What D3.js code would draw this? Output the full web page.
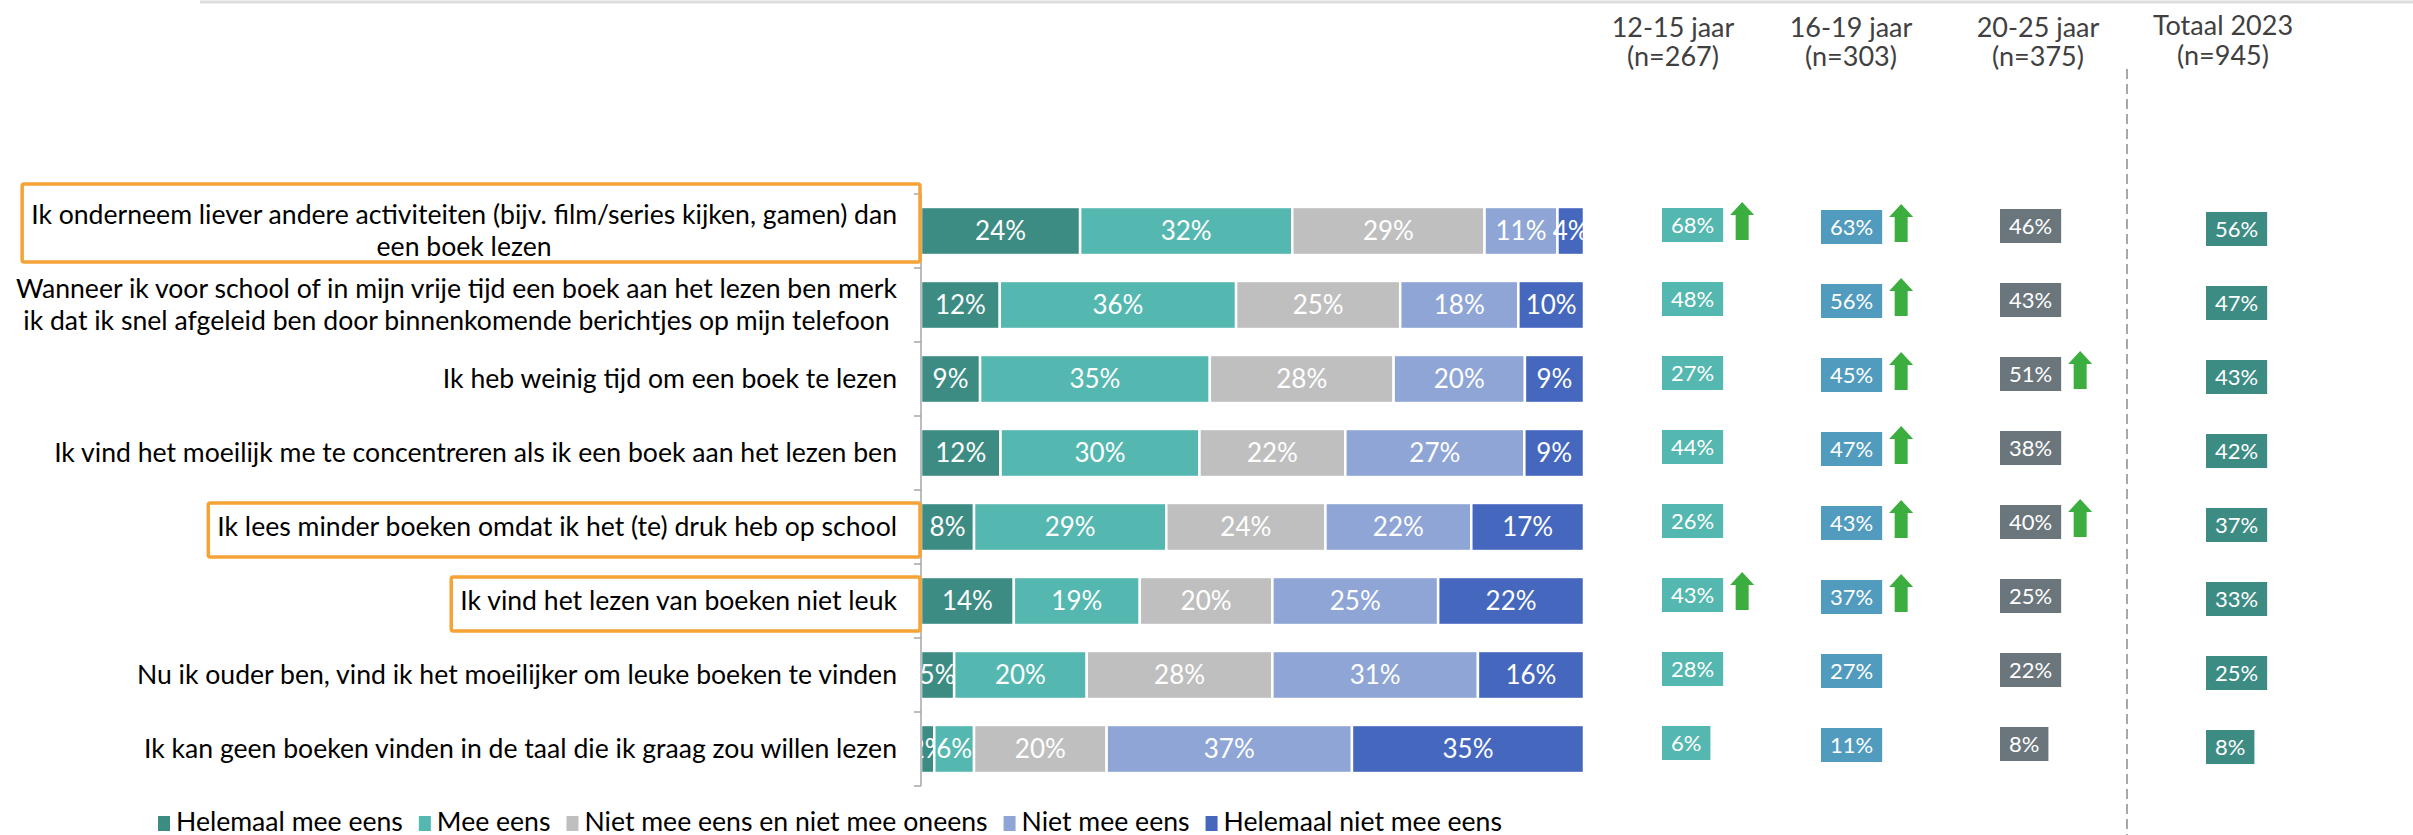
<!DOCTYPE html>
<html>
<head>
<meta charset="utf-8">
<script src="https://cdn.jsdelivr.net/npm/d3@7/dist/d3.min.js"></script>
<style>
  body { margin: 0; background: #fff; }
  svg { display: block; font-family: Lato, "Open Sans", sans-serif; }
</style>
</head>
<body>
<div class="chart"></div>
<script>
// statements (each entry = the lines of the label)
var categories = [
  ['Ik onderneem liever andere activiteiten (bijv. film/series kijken, gamen) dan', 'een boek lezen'],
  ['Wanneer ik voor school of in mijn vrije tijd een boek aan het lezen ben merk', 'ik dat ik snel afgeleid ben door binnenkomende berichtjes op mijn telefoon'],
  ['Ik heb weinig tijd om een boek te lezen'],
  ['Ik vind het moeilijk me te concentreren als ik een boek aan het lezen ben'],
  ['Ik lees minder boeken omdat ik het (te) druk heb op school'],
  ['Ik vind het lezen van boeken niet leuk'],
  ['Nu ik ouder ben, vind ik het moeilijker om leuke boeken te vinden'],
  ['Ik kan geen boeken vinden in de taal die ik graag zou willen lezen']
];
var highlighted = [true, false, false, false, true, true, false, false];

var answers = ['Helemaal mee eens', 'Mee eens', 'Niet mee eens en niet mee oneens', 'Niet mee eens', 'Helemaal niet mee eens'];
var helemaalMeeEens = [24, 12, 9, 12, 8, 14, 5, 2];
var meeEens         = [32, 36, 35, 30, 29, 19, 20, 6];
var neutraal        = [29, 25, 28, 22, 24, 20, 28, 20];
var nietMeeEens     = [11, 18, 20, 27, 22, 25, 31, 37];
var helemaalNiet    = [4, 10, 9, 9, 17, 22, 16, 35];

// (helemaal) mee eens per age group
var groups = ['12-15 jaar', '16-19 jaar', '20-25 jaar', 'Totaal 2023'];
var groupN = ['(n=267)', '(n=303)', '(n=375)', '(n=945)'];
var agree1215   = [68, 48, 27, 44, 26, 43, 28, 6];
var agree1619   = [63, 56, 45, 47, 43, 37, 27, 11];
var agree2025   = [46, 43, 51, 38, 40, 25, 22, 8];
var agreeTotaal = [56, 47, 43, 42, 37, 33, 25, 8];
// significantly higher than the rest
var up1215   = [true, false, false, false, false, true, false, false];
var up1619   = [true, true, true, true, true, true, false, false];
var up2025   = [false, false, true, false, true, false, false, false];
var upTotaal = [false, false, false, false, false, false, false, false];

var colors = ['#3d8c84', '#55b8b0', '#bfbfbf', '#8ea5d6', '#4567be'];
var badgeColors = ['#55b8b0', '#519bbe', '#6a757c', '#3d8c84'];

var W = 2413, H = 835;

var svg = d3.select('.chart').append('svg')
    .attr('width', W)
    .attr('height', H);

var x = d3.scaleLinear().domain([0, 1]).range([921, 1584]);
var y = d3.scaleBand().domain(d3.range(categories.length))
    .range([194, 786]).paddingInner(0.35).paddingOuter(0.175);

// top rule
svg.append('line')
    .attr('x1', 200).attr('x2', W).attr('y1', 2).attr('y2', 2)
    .attr('stroke', '#dcdcdc').attr('stroke-width', 3);

// stacked bars
var rows = categories.map(function(c, i){
  return {
    'Helemaal mee eens': helemaalMeeEens[i],
    'Mee eens': meeEens[i],
    'Niet mee eens en niet mee oneens': neutraal[i],
    'Niet mee eens': nietMeeEens[i],
    'Helemaal niet mee eens': helemaalNiet[i]
  };
});
var series = d3.stack().keys(answers).offset(d3.stackOffsetExpand)(rows);

svg.append('clipPath').attr('id', 'plot-clip')
  .append('rect')
    .attr('x', x(0)).attr('y', 0)
    .attr('width', x(1) - x(0)).attr('height', H);

var bars = svg.append('g').attr('clip-path', 'url(#plot-clip)');

var layers = bars.selectAll('.layer')
    .data(series)
  .enter().append('g')
    .attr('class', 'layer')
    .attr('fill', function(d, i){ return colors[i]; });

layers.selectAll('rect')
    .data(function(d){ return d; })
  .enter().append('rect')
    .attr('x', function(d){ return x(d[0]); })
    .attr('y', function(d, i){ return y(i); })
    .attr('width', function(d){ return x(d[1]) - x(d[0]); })
    .attr('height', y.bandwidth())
    .attr('stroke', '#fff')
    .attr('stroke-width', 2.5);

layers.selectAll('text')
    .data(function(d){
      var key = d.key;
      return d.map(function(s, i){ return { s: s, v: rows[i][key], i: i }; });
    })
  .enter().append('text')
    .attr('x', function(d){ return (x(d.s[0]) + x(d.s[1])) / 2; })
    .attr('y', function(d){ return y(d.i) + y.bandwidth() / 2; })
    .attr('dy', '0.36em')
    .attr('text-anchor', 'middle')
    .attr('fill', '#fff')
    .attr('font-size', 26)
    .text(function(d){ return d.v + '%'; });

// category axis with ticks between the bands
var axis = svg.append('g').attr('stroke', '#a6a6a6').attr('stroke-width', 1.5);
axis.append('line')
    .attr('x1', x(0)).attr('x2', x(0))
    .attr('y1', y.range()[0]).attr('y2', y.range()[1]);
axis.selectAll('.tick')
    .data(d3.range(categories.length + 1))
  .enter().append('line')
    .attr('x1', x(0) - 7).attr('x2', x(0))
    .attr('y1', function(d){ return y.range()[0] + d * y.step(); })
    .attr('y2', function(d){ return y.range()[0] + d * y.step(); });

// statement labels, block right-aligned, lines centred
var labelRight = 897, lineH = 32;
var labels = svg.append('g');
categories.forEach(function(lines, i){
  var cy = y(i) + y.bandwidth() / 2;
  var t = labels.append('text')
      .attr('font-size', 26.6)
      .attr('fill', '#000')
      .attr('text-anchor', 'middle');
  lines.forEach(function(line, j){
    t.append('tspan')
        .attr('y', cy + (j - (lines.length - 1) / 2) * lineH)
        .attr('dy', '0.35em')
        .text(line);
  });
  var w = d3.max(t.selectAll('tspan').nodes(), function(n){ return n.getComputedTextLength(); });
  t.selectAll('tspan').attr('x', labelRight - w / 2);

  // orange frame round the statements that are discussed
  if (highlighted[i]) {
    var top = lines.length > 1 ? cy - 47 : cy - 24,
        bot = lines.length > 1 ? cy + 31 : cy + 30,
        left = labelRight - w - 9;
    labels.append('rect')
        .attr('x', left)
        .attr('y', top)
        .attr('width', x(0) - 1 - left)
        .attr('height', bot - top)
        .attr('rx', 2)
        .attr('fill', 'none')
        .attr('stroke', '#f5a236')
        .attr('stroke-width', 3.5);
  }
});

// age group columns
var colLeft = [1662, 1821, 2000, 2206];
var colCenter = [1673, 1851, 2038, 2223];
var colShift = [-6, -4, -5, -2];
var colValues = [agree1215, agree1619, agree2025, agreeTotaal];
var colUp = [up1215, up1619, up2025, upTotaal];

var head = svg.append('g')
    .attr('fill', '#404040')
    .attr('font-size', 27)
    .attr('text-anchor', 'middle');
groups.forEach(function(g, c){
  var lift = c === 3 ? 2 : 0;
  head.append('text').attr('x', colCenter[c]).attr('y', 37 - lift).text(g);
  head.append('text').attr('x', colCenter[c]).attr('y', 66 - lift / 2).text(groupN[c]);
});

svg.append('line')
    .attr('x1', 2127).attr('x2', 2127)
    .attr('y1', 69).attr('y2', H)
    .attr('stroke', '#8c8c8c')
    .attr('stroke-width', 1.5)
    .attr('stroke-dasharray', '10,5');

var badgeH = 34;
colValues.forEach(function(vals, c){
  var g = svg.append('g');
  vals.forEach(function(v, i){
    var cy = y(i) + y.bandwidth() / 2 + colShift[c];
    var t = g.append('text')
        .attr('x', colLeft[c] + 9)
        .attr('y', cy)
        .attr('dy', '0.36em')
        .attr('fill', '#fff')
        .attr('font-size', 22)
        .text(v + '%');
    var w = t.node().getComputedTextLength() + 18;
    g.insert('rect', 'text')
        .attr('x', colLeft[c])
        .attr('y', cy - badgeH / 2)
        .attr('width', w)
        .attr('height', badgeH)
        .attr('fill', badgeColors[c]);

    if (colUp[c][i]) {
      var ax = colLeft[c] + w + 19,
          top = cy - badgeH / 2 - 6,
          bot = cy + badgeH / 2 - 2;
      g.append('path')
          .attr('d', d3.line()([
            [ax, top], [ax + 12, top + 13], [ax + 6.5, top + 13], [ax + 6.5, bot],
            [ax - 6.5, bot], [ax - 6.5, top + 13], [ax - 12, top + 13]
          ]) + 'Z')
          .attr('fill', '#3cae3f');
    }
  });
});

// legend
var legend = svg.append('g').attr('font-size', 26.6).attr('fill', '#000');
var lx = 158;
answers.forEach(function(a, i){
  legend.append('rect')
      .attr('x', lx).attr('y', 816)
      .attr('width', 12).attr('height', 15)
      .attr('fill', colors[i]);
  var t = legend.append('text')
      .attr('x', lx + 18).attr('y', 831)
      .text(a);
  lx += 18 + t.node().getComputedTextLength() + 16;
});
</script>
</body>
</html>
